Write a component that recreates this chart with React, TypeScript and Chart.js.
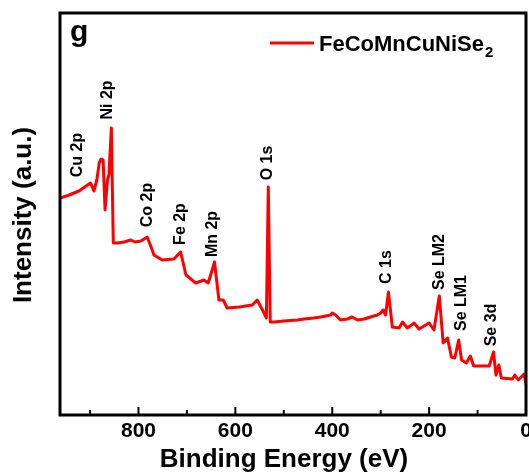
import React, { useEffect, useRef } from 'react';
import { Chart, registerables } from 'chart.js';

Chart.register(...registerables);

// Binding energy (eV) and intensity (a.u.)
const energy = [
  962, 943, 923, 899, 892, 886, 881, 877, 873, 869,
  864, 861, 856, 852, 844, 830, 816, 807, 795, 782,
  774, 768, 751, 727, 713, 702, 682, 665, 656, 643,
  634, 625, 617, 592, 565, 555, 544, 536, 532, 528,
  520, 500, 472, 458, 438, 424, 403, 400, 393, 383,
  369, 359, 348, 334, 321, 307, 300, 295, 290, 284,
  276, 262, 255, 245, 231, 221, 200, 190, 179, 171,
  162, 154, 147, 139, 133, 123, 115, 108, 76, 67,
  62, 56, 51, 28, 23, 16, 4, 0,
];
const intensity = [
  217, 220, 224, 232, 224, 235, 252, 256, 255, 205,
  235, 240, 287, 172, 172, 173, 175, 173, 174, 178,
  168, 160, 155, 156, 163, 140, 132, 135, 132, 153,
  115, 115, 107, 108, 110, 115, 105, 97, 228, 93,
  93, 94, 95, 96, 97, 98, 100, 102, 100, 95,
  96, 98, 95, 96, 98, 100, 102, 105, 100, 123,
  88, 87, 93, 87, 92, 86, 92, 85, 119, 72,
  77, 58, 57, 75, 55, 52, 59, 49, 49, 63,
  40, 50, 37, 36, 40, 35, 41, 31,
];

const majorTicks = [0, 200, 400, 600, 800];
const minorTicks = [100, 300, 500, 700, 900];

const peakNames = ['Cu 2p', 'Ni 2p', 'Co 2p', 'Fe 2p', 'Mn 2p', 'O 1s', 'C 1s', 'Se LM2', 'Se LM1', 'Se 3d'];
const peakEnergy = [925, 863, 782, 714, 648, 533, 287, 178, 132, 70];
const peakLabelLevel = [260, 315, 210, 191, 181, 252, 148, 153, 112, 90];

const seriesName = 'FeCoMnCuNiSe';
const seriesSub = '2';
const panelLabel = 'g';
const xTitle = 'Binding Energy (eV)';
const yTitle = 'Intensity (a.u.)';

const FONT = '"Liberation Sans", Arial, Helvetica, sans-serif';
const RED = '#ff0000';

const decor = {
  id: 'decor',
  afterDraw(chart: any) {
    const { ctx, chartArea: a, scales } = chart;
    const x = scales.x;
    const y = scales.y;
    ctx.save();
    ctx.strokeStyle = '#000';
    ctx.fillStyle = '#000';
    // inward ticks
    ctx.lineWidth = 2;
    const tick = (v: number, len: number) => {
      const px = x.getPixelForValue(v);
      ctx.beginPath();
      ctx.moveTo(px, a.bottom);
      ctx.lineTo(px, a.bottom - len);
      ctx.stroke();
    };
    majorTicks.forEach((v) => tick(v, 8));
    minorTicks.forEach((v) => tick(v, 5));
    // frame
    ctx.lineWidth = 3;
    ctx.strokeRect(a.left, a.top, a.right - a.left, a.bottom - a.top);

    // tick labels
    ctx.font = `bold 21px ${FONT}`;
    ctx.textAlign = 'center';
    ctx.textBaseline = 'alphabetic';
    majorTicks.forEach((v) => {
      ctx.fillText(String(v), x.getPixelForValue(v), a.bottom + 22);
    });

    // peak labels
    ctx.font = `bold 16px ${FONT}`;
    ctx.textAlign = 'center';
    ctx.textBaseline = 'middle';
    peakNames.forEach((n, i) => {
      const px = x.getPixelForValue(peakEnergy[i]);
      const py = y.getPixelForValue(peakLabelLevel[i]);
      ctx.save();
      ctx.translate(px, py);
      ctx.rotate(-Math.PI / 2);
      ctx.fillText(n, 0, 0);
      ctx.restore();
    });

    // panel label
    ctx.textAlign = 'left';
    ctx.textBaseline = 'alphabetic';
    ctx.font = `bold 30px ${FONT}`;
    ctx.fillText(panelLabel, a.left + 10, a.top + 28);

    // legend
    ctx.strokeStyle = RED;
    ctx.lineWidth = 3;
    ctx.beginPath();
    ctx.moveTo(270, 43);
    ctx.lineTo(314, 43);
    ctx.stroke();
    ctx.font = `bold 22px ${FONT}`;
    ctx.fillText(seriesName, 319, 51);
    const w = ctx.measureText(seriesName).width;
    ctx.font = `bold 15px ${FONT}`;
    ctx.fillText(seriesSub, 319 + w + 1, 57);

    // axis titles
    ctx.textAlign = 'center';
    ctx.textBaseline = 'middle';
    ctx.font = `bold 26px ${FONT}`;
    ctx.fillText(xTitle, a.left + 224, 460);
    ctx.save();
    ctx.translate(24, (a.top + a.bottom) / 2 + 1);
    ctx.rotate(-Math.PI / 2);
    ctx.fillText(yTitle, 0, 0);
    ctx.restore();
    ctx.restore();
  },
};

export default function App() {
  const ref = useRef<HTMLCanvasElement | null>(null);
  useEffect(() => {
    if (!ref.current) return;
    const points = energy.map((e, i) => ({ x: e, y: intensity[i] }));
    const chart = new Chart(ref.current, {
      type: 'line',
      data: {
        datasets: [
          {
            label: seriesName + seriesSub,
            data: points,
            borderColor: RED,
            backgroundColor: RED,
            borderWidth: 3,
            borderJoinStyle: 'round',
            borderCapStyle: 'round',
            pointRadius: 0,
            tension: 0,
            fill: false,
          },
        ],
      },
      options: {
        animation: false,
        responsive: false,
        devicePixelRatio: 1,
        layout: { padding: { left: 60, right: 3, top: 13, bottom: 61 } },
        plugins: { legend: { display: false }, tooltip: { enabled: false } },
        scales: {
          x: {
            type: 'linear',
            display: false,
            reverse: true,
            min: 0,
            max: 962,
          },
          y: {
            display: false,
            min: 0,
            max: 402,
          },
        },
      },
      plugins: [decor],
    } as any);
    return () => chart.destroy();
  }, []);
  return (
    <div style={{ position: 'fixed', left: 0, top: 0, width: 529, height: 476, background: '#fff' }}>
      <canvas ref={ref} width={529} height={476} style={{ display: 'block' }} />
    </div>
  );
}
